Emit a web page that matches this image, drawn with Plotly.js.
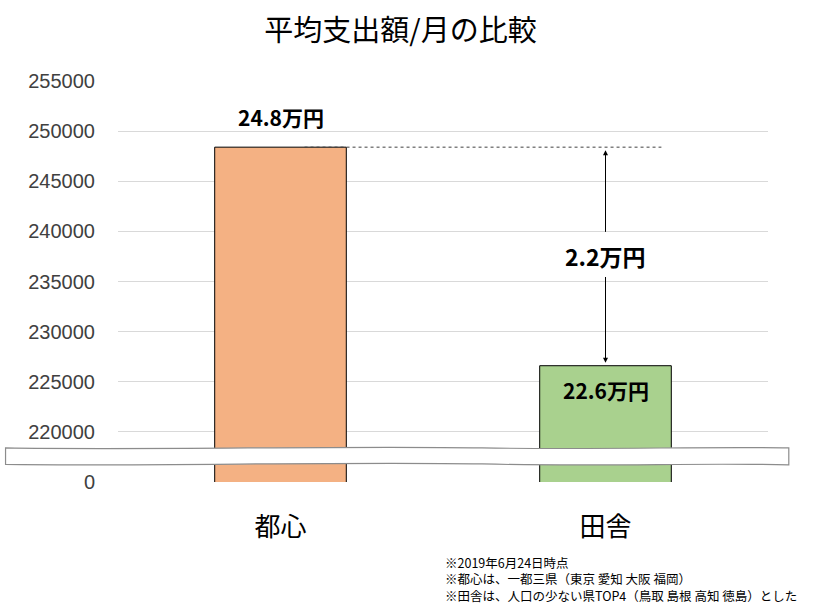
<!DOCTYPE html>
<html>
<head>
<meta charset="utf-8">
<script src="https://cdn.plot.ly/plotly-3.0.1.min.js"></script>
<style>
  body { margin: 0; background: #fff; }
  #chart { width: 831px; height: 614px; }
</style>
</head>
<body>
<div id="chart"></div>
<script>
// データ
var categories = ['都心', '田舎'];
var spending = [248400, 226600];
var barLabels = ['24.8万円', '22.6万円'];
var diffLabel = '2.2万円';
// 省略した軸: 一番下の目盛りは「0」と表示
var tickValues = [215000, 220000, 225000, 230000, 235000, 240000, 245000, 250000, 255000];
var tickTexts = ['0', '220000', '225000', '230000', '235000', '240000', '245000', '250000', '255000'];
var notes = ['※2019年6月24日時点', '※都心は、一都三県（東京 愛知 大阪 福岡）', '※田舎は、人口の少ない県TOP4（鳥取 島根 高知 徳島）とした'];

var jpFont = '"Noto Sans CJK JP", "Noto Sans", sans-serif';

var trace = {
    x: categories,
    y: spending,
    type: 'bar',
    marker: {
        color: ['#F4B183', '#A9D18E'],
        line: { color: '#000000', width: 1 }
    },
    hoverinfo: 'none'
};

// 棒の上のラベル
var annotations = [
    { x: categories[0], y: spending[0], text: '<b>' + barLabels[0] + '</b>', showarrow: false,
      yshift: 30, font: { family: jpFont, size: 21, color: '#000' } },
    { x: categories[1], y: spending[1], text: '<b>' + barLabels[1] + '</b>', showarrow: false,
      yshift: -24, font: { family: jpFont, size: 21, color: '#000' } },
    { x: categories[1], y: (spending[0] + spending[1]) / 2, text: '<b>' + diffLabel + '</b>', showarrow: false,
      font: { family: jpFont, size: 23, color: '#000' } },
    // 差の矢印（上）
    { x: categories[1], y: spending[0] - 300, ax: categories[1], ay: 239800, axref: 'x', ayref: 'y',
      text: '', showarrow: true, arrowhead: 2, arrowsize: 1, arrowwidth: 1, arrowcolor: '#000' },
    // 差の矢印（下）
    { x: categories[1], y: spending[1] + 300, ax: categories[1], ay: 235600, axref: 'x', ayref: 'y',
      text: '', showarrow: true, arrowhead: 2, arrowsize: 1, arrowwidth: 1, arrowcolor: '#000' },
    // 注記
    { xref: 'paper', yref: 'paper', x: 0.5, y: -0.242, xanchor: 'left', yanchor: 'middle', align: 'left',
      text: notes.join('<br>'), showarrow: false, font: { family: jpFont, size: 12.5, color: '#000' } }
];

var shapes = [
    // 都心の高さの点線
    { type: 'line', xref: 'paper', yref: 'y', x0: 0.287, x1: 0.836, y0: spending[0], y1: spending[0],
      line: { color: '#404040', width: 1, dash: 'dot' } },
    // 軸の省略マーク（波線の帯）
    { type: 'path', xref: 'paper', yref: 'y', layer: 'above',
      path: 'M -0.173,218400 C 0.05,218150 0.35,218650 0.56,218400 C 0.75,218200 0.9,218550 1.032,218400 ' +
            'L 1.032,216700 C 0.9,216950 0.75,216500 0.56,216800 C 0.35,217050 0.05,216550 -0.173,216750 Z',
      fillcolor: '#ffffff', line: { color: '#8c8c8c', width: 1.2 } }
];

var layout = {
    width: 831,
    height: 614,
    margin: { l: 118, r: 63, t: 81, b: 132 },
    paper_bgcolor: '#ffffff',
    plot_bgcolor: '#ffffff',
    showlegend: false,
    bargap: 0.595,
    title: {
        text: '平均支出額/月の比較',
        x: 0.482, xanchor: 'center', y: 0.95, yanchor: 'middle',
        font: { family: jpFont, size: 29, color: '#000' }
    },
    xaxis: {
        type: 'category',
        showgrid: false,
        showline: false,
        zeroline: false,
        ticks: '',
        tickfont: { family: jpFont, size: 26, color: '#000' },
        ticklabelstandoff: 27
    },
    yaxis: {
        range: [215000, 255000],
        tickmode: 'array',
        tickvals: tickValues,
        ticktext: tickTexts,
        showgrid: true,
        gridcolor: '#D9D9D9',
        gridwidth: 1,
        zeroline: false,
        showline: false,
        ticks: '',
        ticklabelstandoff: 22,
        tickfont: { family: '"Liberation Sans Narrow", "Liberation Sans", sans-serif', size: 20, color: '#404040' }
    },
    annotations: annotations,
    shapes: shapes
};

Plotly.newPlot('chart', [trace], layout, { displayModeBar: false, staticPlot: true });
</script>
</body>
</html>
